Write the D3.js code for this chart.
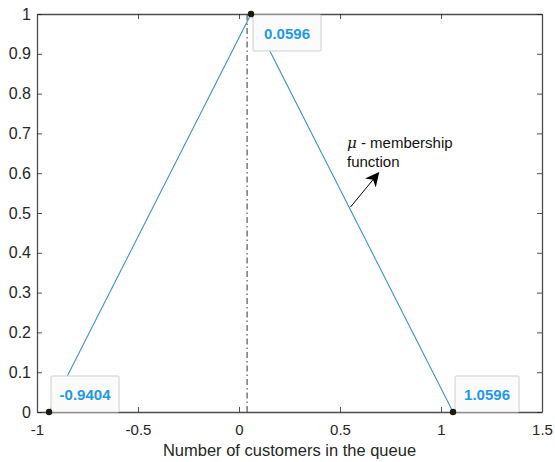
<!DOCTYPE html>
<html>
<head>
<meta charset="utf-8">
<script src="https://cdn.jsdelivr.net/npm/d3@7"></script>
<style>
  html, body { margin: 0; padding: 0; background: #fff; }
  svg { display: block; font-family: "Liberation Sans", Arial, Helvetica, sans-serif; }
</style>
</head>
<body>
<svg id="chart" width="555" height="462"></svg>
<script>
// Triangular membership function: vertices (x, mu)
const vertexX = [-0.9404, 0.0596, 1.0596];
const vertexY = [0, 1, 0];
// Data tip labels shown next to each vertex
const tipLabels = ["-0.9404", "0.0596", "1.0596"];
// Vertical dash-dot reference line position
const refLineX = 0.04;
// Axis ticks
const xTicks = [-1, -0.5, 0, 0.5, 1, 1.5];
const yTicks = [0, 0.1, 0.2, 0.3, 0.4, 0.5, 0.6, 0.7, 0.8, 0.9, 1];
const xDomain = [-1, 1.5];
const yDomain = [0, 1];
// Annotation arrow (data coords): tail, head
const arrowFrom = [0.552, 0.515];
const arrowTo = [0.69, 0.6];

(function () {
const svg = d3.select("#chart");
const mLeft = 37, mRight = 542, mTop = 14, mBottom = 412;
const x = d3.scaleLinear().domain(xDomain).range([mLeft, mRight]);
const y = d3.scaleLinear().domain(yDomain).range([mBottom, mTop]);
const axisColor = "#262626";
const lineColor = "#3f93bd";
const tipColor = "#1f98e8";

// Box axes with inward ticks on all four sides
const fmt = d => String(d);
const axB = svg.append("g").attr("transform", `translate(0,${mBottom})`)
  .call(d3.axisBottom(x).tickValues(xTicks).tickFormat(fmt).tickSizeInner(-5).tickSizeOuter(0).tickPadding(12));
const axT = svg.append("g").attr("transform", `translate(0,${mTop})`)
  .call(d3.axisTop(x).tickValues(xTicks).tickFormat("").tickSizeInner(-5).tickSizeOuter(0));
const axL = svg.append("g").attr("transform", `translate(${mLeft},0)`)
  .call(d3.axisLeft(y).tickValues(yTicks).tickFormat(fmt).tickSizeInner(-5).tickSizeOuter(0).tickPadding(6));
const axR = svg.append("g").attr("transform", `translate(${mRight},0)`)
  .call(d3.axisRight(y).tickValues(yTicks).tickFormat("").tickSizeInner(-5).tickSizeOuter(0));

[axB, axT, axL, axR].forEach(g => {
  g.select(".domain").attr("stroke", "#4d4d4d").attr("stroke-width", 1.3);
  g.selectAll(".tick line").attr("stroke", axisColor).attr("stroke-width", 0.8);
  g.selectAll(".tick text").attr("fill", axisColor).attr("font-size", 15)
    .attr("font-family", "Liberation Sans, Arial, sans-serif");
});
axL.selectAll(".tick text").attr("font-size", 16);

// X axis title
svg.append("text")
  .attr("x", (mLeft + mRight) / 2).attr("y", 456)
  .attr("text-anchor", "middle").attr("fill", axisColor)
  .attr("font-size", 16.5).text("Number of customers in the queue");

// Dash-dot reference line
svg.append("line")
  .attr("x1", x(refLineX)).attr("x2", x(refLineX))
  .attr("y1", y(0)).attr("y2", y(1))
  .attr("stroke", "#333").attr("stroke-width", 1)
  .attr("stroke-dasharray", "6,3,1.5,3");

// Membership function line
const pts = vertexX.map((v, i) => [v, vertexY[i]]);
svg.append("path")
  .datum(pts)
  .attr("fill", "none").attr("stroke", lineColor).attr("stroke-width", 1.1)
  .attr("d", d3.line().x(d => x(d[0])).y(d => y(d[1])));

// Data tips: box placed to the upper/lower right of each vertex
const tipW = [68, 68, 64], tipH = [36, 36, 36];
pts.forEach((p, i) => {
  const px = x(p[0]), py = y(p[1]);
  const bx = px + 2;
  const by = p[1] === 1 ? py + 1 : py - tipH[i];
  svg.append("rect")
    .attr("x", bx).attr("y", by).attr("width", tipW[i]).attr("height", tipH[i])
    .attr("fill", "#fbfbfb").attr("stroke", "#cfcfcf").attr("stroke-width", 1)
    .attr("rx", 1);
  svg.append("text")
    .attr("x", bx + tipW[i] / 2).attr("y", by + tipH[i] / 2 + 5.5)
    .attr("text-anchor", "middle").attr("fill", tipColor)
    .attr("font-weight", "bold").attr("font-size", 15)
    .text(tipLabels[i]);
});

// Vertex markers
svg.selectAll("circle.vertex").data(pts).enter().append("circle")
  .attr("class", "vertex")
  .attr("cx", d => x(d[0])).attr("cy", d => y(d[1])).attr("r", 3.2)
  .attr("fill", "#1a1a10");

// Annotation arrow
svg.append("defs").append("marker")
  .attr("id", "head").attr("viewBox", "0 0 10 10")
  .attr("refX", 9).attr("refY", 5)
  .attr("markerWidth", 14).attr("markerHeight", 14)
  .attr("markerUnits", "userSpaceOnUse")
  .attr("orient", "auto")
  .append("path").attr("d", "M0,0 L10,5 L0,10 L3,5 Z").attr("fill", "#000");
svg.append("line")
  .attr("x1", x(arrowFrom[0])).attr("y1", y(arrowFrom[1]))
  .attr("x2", x(arrowTo[0])).attr("y2", y(arrowTo[1]))
  .attr("stroke", "#000").attr("stroke-width", 1)
  .attr("marker-end", "url(#head)");

// Annotation text
const ann = svg.append("text").attr("x", 347).attr("y", 148)
  .attr("fill", "#111").attr("font-size", 15);
ann.append("tspan").attr("font-style", "italic").attr("font-family", "DejaVu Serif, serif").text("μ");
ann.append("tspan").text(" - membership");
svg.append("text").attr("x", 347).attr("y", 167)
  .attr("fill", "#111").attr("font-size", 15).text("function");
})();
</script>
</body>
</html>
